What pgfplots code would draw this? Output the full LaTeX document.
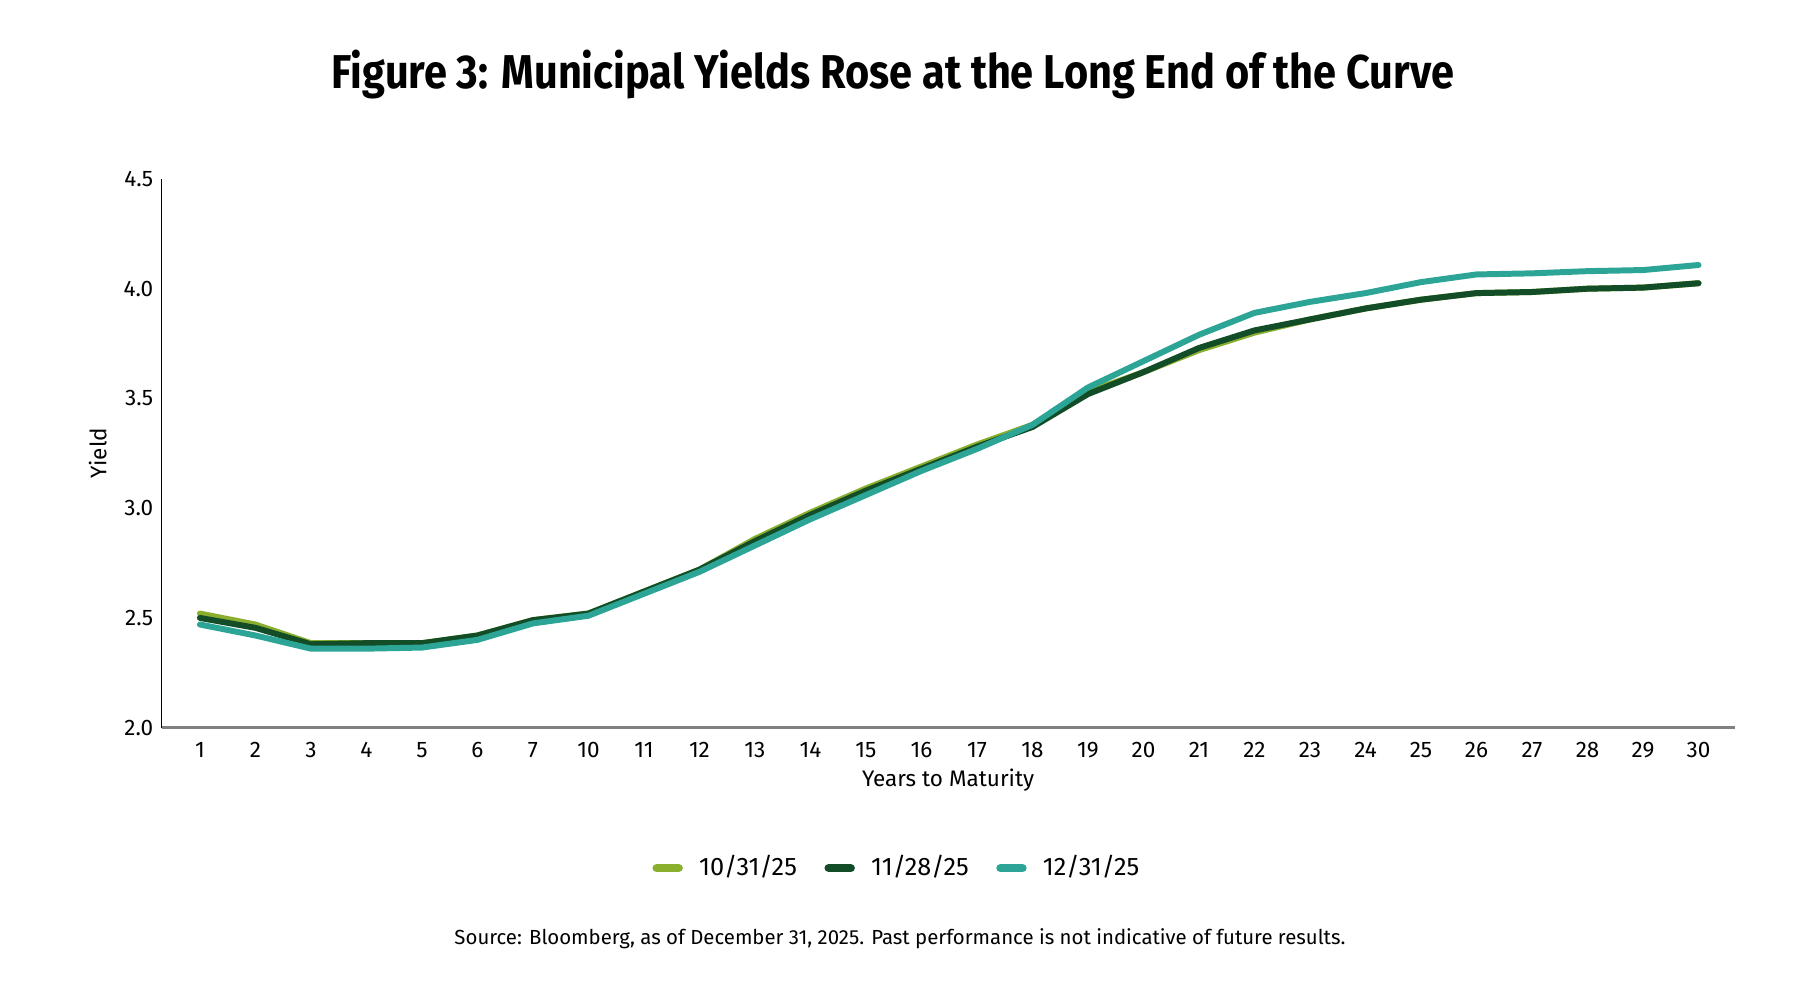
\documentclass[border=0pt]{standalone}
\usepackage{fontspec}
\setmainfont{Fira Sans}
\newfontfamily\titlefont[FakeStretch=0.875]{Fira Sans}
\usepackage{pgfplots}
\usepackage{pgfplotstable}
\pgfplotsset{compat=1.18}

\definecolor{lightgrn}{HTML}{8AAF2E}
\definecolor{darkgrn}{HTML}{124D28}
\definecolor{tealc}{HTML}{2DA596}

% index, 10/31/25, 11/28/25, 12/31/25
\pgfplotstableread{
i  oct    nov    dec
0  2.52   2.50   2.47
1  2.47   2.455  2.42
2  2.385  2.38   2.36
3  2.385  2.385  2.36
4  2.385  2.385  2.365
5  2.42   2.42   2.40
6  2.49   2.49   2.475
7  2.52   2.52   2.51
8  2.62   2.62   2.61
9  2.72   2.72   2.71
10 2.86   2.85   2.83
11 2.98   2.97   2.95
12 3.09   3.08   3.06
13 3.19   3.18   3.17
14 3.29   3.28   3.27
15 3.38   3.37   3.38
16 3.53   3.52   3.55
17 3.62   3.62   3.67
18 3.72   3.73   3.79
19 3.80   3.81   3.89
20 3.86   3.86   3.94
21 3.91   3.91   3.98
22 3.95   3.95   4.03
23 3.98   3.98   4.065
24 3.985  3.985  4.07
25 4.00   4.00   4.08
26 4.005  4.005  4.085
27 4.025  4.025  4.108
}\yields

\begin{document}
\begin{tikzpicture}
\path[use as bounding box] (0,0) rectangle (18cm,10cm);

\node[anchor=base, font=\fontsize{13.5}{15}\selectfont\titlefont\bfseries] at (8.93cm,9.11cm)
  {Figure 3: Municipal Yields Rose at the Long End of the Curve};

\begin{axis}[
    at={(1.616cm,2.723cm)}, anchor=south west,
    scale only axis,
    width=15.73cm, height=5.487cm,
    xmin=-0.69, xmax=27.65,
    ymin=2, ymax=4.5,
    axis x line=bottom, axis y line=left,
    x axis line style={-, draw=gray, line width=0.9pt},
    y axis line style={-, draw=black, line width=0.5pt},
    xtick={0,...,27},
    xticklabels={1,2,3,4,5,6,7,10,11,12,13,14,15,16,17,18,19,20,21,22,23,24,25,26,27,28,29,30},
    ytick={2,2.5,3,3.5,4,4.5},
    /pgf/number format/fixed,
    /pgf/number format/fixed zerofill,
    /pgf/number format/precision=1,
    /pgf/number format/assume math mode=true,
    major tick length=0pt,
    tick label style={font=\fontsize{6.4}{7}\selectfont},
    xticklabel style={yshift=-0.2mm},
    yticklabel style={xshift=0.4mm},
    xlabel={Years to Maturity},
    ylabel={Yield},
    label style={font=\fontsize{6.4}{7}\selectfont},
    xlabel style={yshift=1.3mm},
    ylabel style={at={(axis description cs:-0.027,0.5)}, anchor=south},
    legend columns=3,
    legend style={at={(0.469,-0.256)}, anchor=center, draw=none,
        font=\fontsize{7.2}{8}\selectfont,
        /tikz/every even column/.append style={column sep=2.05mm}},
    legend image code/.code={
        \draw[line width=2.4pt, line cap=round] (0cm,0cm) -- (0.22cm,0cm);
        \path (0.325cm,0cm);},
    every axis plot/.append style={line width=1.7pt, line cap=round, line join=round, mark=none},
]
\addplot[lightgrn] table[x=i, y=oct] {\yields};
\addlegendentry{10/31/25}
\addplot[darkgrn] table[x=i, y=nov] {\yields};
\addlegendentry{11/28/25}
\addplot[tealc] table[x=i, y=dec] {\yields};
\addlegendentry{12/31/25}
\end{axis}

\node[anchor=center, font=\fontsize{5.8}{7}\selectfont] at (9.0cm,0.61cm)
  {Source: Bloomberg, as of December 31, 2025. Past performance is not indicative of future results.};
\end{tikzpicture}
\end{document}
